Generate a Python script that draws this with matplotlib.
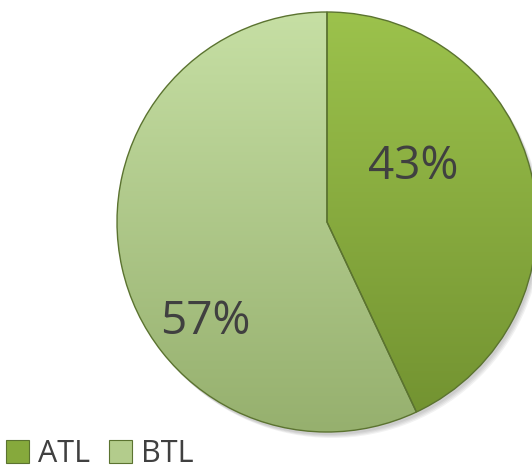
import numpy as np
import matplotlib.pyplot as plt
from matplotlib.patches import Patch, Circle
from matplotlib.colors import LinearSegmentedColormap

labels = ['ATL', 'BTL']
shares = [43, 57]
top_colors = ['#9cc24c', '#c6dfa4']
bottom_colors = ['#719130', '#96b06e']
label_pos = [(413, 303), (205, 148)]

fig = plt.figure(figsize=(5.32, 4.70), dpi=100)
ax = fig.add_axes([0, 0, 1, 1])

cx, cy, r = 327, 248, 210

# soft drop shadow under the pie
for i in range(4):
    ax.add_patch(Circle((cx + 2 + i, cy - 3 - i), r, color='black', alpha=0.05,
                        lw=0, zorder=0))

wedges, _ = ax.pie(shares, startangle=90, counterclock=False,
                   center=(cx, cy), radius=r,
                   wedgeprops=dict(edgecolor='#5b7330', linewidth=1,
                                   facecolor='none'))

# vertical gradient fill clipped to each wedge
grad = np.linspace(0, 1, 256).reshape(-1, 1)
for w, c0, c1 in zip(wedges, bottom_colors, top_colors):
    w.set_zorder(3)
    cmap = LinearSegmentedColormap.from_list('g', [c0, c1])
    im = ax.imshow(grad, cmap=cmap, origin='lower', aspect='auto',
                   extent=[cx - r, cx + r, cy - r, cy + r], zorder=2)
    im.set_clip_path(w)

for (x, y), s in zip(label_pos, shares):
    ax.text(x, y, f'{s}%', ha='center', va='center', fontsize=33,
            color='#404040', family='Open Sans', zorder=4)

ax.set_xlim(0, 532)
ax.set_ylim(0, 470)
ax.set_aspect('equal')
ax.axis('off')

handles = [Patch(facecolor=c, edgecolor='#5b7330', linewidth=0.8)
           for c in ['#86a93c', '#b3cc8c']]
fig.legend(handles, labels, loc='lower left', bbox_to_anchor=(0.012, 0.002),
           ncol=2, frameon=False, prop={'family': 'Open Sans', 'size': 22},
           labelcolor='#404040', handlelength=0.75, handleheight=0.75,
           handletextpad=0.3, columnspacing=0.6, borderpad=0,
           borderaxespad=0)

fig.savefig('out.png', dpi=100)
